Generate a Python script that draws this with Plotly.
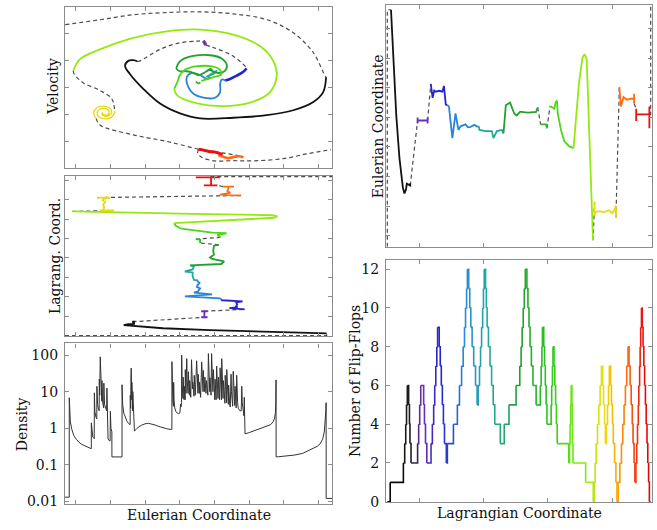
import plotly.graph_objects as go

# ---------------------------------------------------------------------------
# Colour ramp along the Lagrangian coordinate
# ---------------------------------------------------------------------------
ramp_L = [0.0, 0.09, 0.13, 0.20, 0.29, 0.38, 0.50, 0.62, 0.72, 0.82, 0.86, 0.91, 0.97, 1.0]
ramp_hex = ["#000000", "#202020", "#7030b0", "#2222d0", "#2a88d8", "#22aaa0", "#20a030",
            "#2ec81e", "#7aec10", "#e8e010", "#f8b400", "#ff6a10", "#e81010", "#e00000"]

# ---------------------------------------------------------------------------
# Trajectory stretches: Lagrangian coordinate (L) and Eulerian coordinate (E)
# ---------------------------------------------------------------------------
lead_in_L = [0.0, 0.0, 0.014]
lead_in_E = [0.0, 0.980, 0.980]

black_L = [0.014, 0.021, 0.034, 0.046, 0.059, 0.065, 0.071, 0.074, 0.079, 0.087, 0.087, 0.087]
black_E = [0.980, 0.816, 0.543, 0.367, 0.245, 0.220, 0.237, 0.261, 0.257, 0.253, 0.262, 0.253]

purple_L = [0.115, 0.115, 0.115, 0.115, 0.153, 0.153, 0.153, 0.153]
purple_E = [0.522, 0.534, 0.510, 0.522, 0.522, 0.534, 0.510, 0.522]

blue_L = [0.165, 0.172, 0.178, 0.184, 0.197, 0.209, 0.215, 0.222, 0.228]
blue_E = [0.673, 0.616, 0.646, 0.641, 0.645, 0.641, 0.665, 0.588, 0.585]

sky_L = [0.228, 0.234, 0.247, 0.259, 0.270, 0.278, 0.297, 0.306, 0.316, 0.331, 0.340, 0.347]
sky_E = [0.585, 0.580, 0.449, 0.551, 0.483, 0.498, 0.506, 0.494, 0.496, 0.504, 0.497, 0.498]

teal_L = [0.347, 0.350, 0.372, 0.397, 0.403, 0.416, 0.435, 0.441]
teal_E = [0.498, 0.483, 0.478, 0.478, 0.449, 0.478, 0.483, 0.469]

green_L = [0.441, 0.450, 0.466, 0.482, 0.491, 0.504, 0.509, 0.534, 0.565, 0.571]
green_E = [0.469, 0.585, 0.596, 0.551, 0.543, 0.558, 0.558, 0.555, 0.558, 0.576]

green2_L = [0.582, 0.603, 0.606]
green2_E = [0.506, 0.506, 0.490]

green3_L = [0.618, 0.634, 0.639, 0.644, 0.647, 0.660, 0.672, 0.691, 0.707]
green3_E = [0.582, 0.571, 0.596, 0.605, 0.551, 0.480, 0.436, 0.415, 0.408]

lime_L = [0.707, 0.715, 0.728, 0.741, 0.749, 0.757, 0.766, 0.774, 0.781]
lime_E = [0.408, 0.503, 0.680, 0.782, 0.796, 0.776, 0.478, 0.204, 0.027]

yellow_L = [0.787, 0.787, 0.789, 0.805, 0.823, 0.842, 0.853, 0.862, 0.866, 0.868, 0.868]
yellow_E = [0.184, 0.130, 0.143, 0.147, 0.143, 0.151, 0.139, 0.150, 0.163, 0.170, 0.120]

orange_L = [0.881, 0.887, 0.897, 0.910, 0.925, 0.937, 0.937, 0.937]
orange_E = [0.660, 0.580, 0.619, 0.608, 0.612, 0.612, 0.633, 0.592]

red_L = [0.945, 0.945, 0.945, 0.974, 0.995, 0.995, 0.995, 0.995]
red_E = [0.571, 0.520, 0.547, 0.547, 0.547, 0.580, 0.490, 0.547]

lead_out_L = [0.995, 1.0, 1.0]
lead_out_E = [0.547, 0.547, 1.0]

# ---------------------------------------------------------------------------
# Phase space: Eulerian coordinate (E) and velocity (V)
# ---------------------------------------------------------------------------
vel_lead_in_E = [0.001, 0.131, 0.255, 0.382, 0.506, 0.629, 0.757, 0.854, 0.929, 0.974, 0.978]
vel_lead_in_V = [0.779, 0.840, 0.902, 0.930, 0.939, 0.914, 0.840, 0.681, 0.436, 0.141, 0.125]

vel_black_E = [0.978, 0.967, 0.930, 0.855, 0.755, 0.630, 0.506, 0.431, 0.356, 0.293, 0.243, 0.225, 0.237, 0.256, 0.272]
vel_black_V = [0.125, -0.059, -0.182, -0.285, -0.346, -0.378, -0.387, -0.325, -0.202, -0.018, 0.166, 0.267, 0.329, 0.337, 0.321]

vel_gap1_E = [0.272, 0.281, 0.356, 0.431, 0.493, 0.518]
vel_gap1_V = [0.321, 0.329, 0.472, 0.555, 0.574, 0.580]

vel_purple_E = [0.518, 0.523, 0.527]
vel_purple_V = [0.580, 0.555, 0.525]

vel_gap2_E = [0.527, 0.554, 0.629, 0.675, 0.680]
vel_gap2_V = [0.525, 0.497, 0.390, 0.260, 0.236]

vel_blue_E = [0.680, 0.668, 0.643, 0.618, 0.600]
vel_blue_V = [0.236, 0.194, 0.145, 0.104, 0.085]

vel_sky_E = [0.600, 0.587, 0.581, 0.581, 0.562, 0.518, 0.481, 0.462, 0.456, 0.474, 0.506, 0.531, 0.545]
vel_sky_V = [0.085, 0.096, 0.043, -0.059, -0.129, -0.129, -0.080, 0.002, 0.125, 0.178, 0.153, 0.104, 0.120]

vel_teal_E = [0.545, 0.531, 0.555, 0.568, 0.540, 0.560]
vel_teal_V = [0.120, 0.137, 0.166, 0.206, 0.150, 0.190]

vel_green_E = [0.560, 0.540, 0.520, 0.500, 0.480, 0.455, 0.430, 0.418, 0.425, 0.437, 0.481, 0.543,
               0.587, 0.606, 0.599, 0.574, 0.555, 0.545, 0.530]
vel_green_V = [0.190, 0.215, 0.180, 0.150, 0.180, 0.200, 0.200, 0.227, 0.300, 0.341, 0.390, 0.399,
               0.358, 0.276, 0.206, 0.178, 0.200, 0.230, 0.200]

vel_green2_E = [0.490, 0.500, 0.507]
vel_green2_V = [0.070, 0.050, 0.060]

vel_green3_E = [0.510, 0.560, 0.585, 0.580, 0.550, 0.490, 0.450, 0.430, 0.420, 0.409]
vel_green3_V = [0.080, 0.130, 0.160, 0.220, 0.260, 0.260, 0.220, 0.150, 0.060, -0.018]

vel_lime_E = [0.409, 0.418, 0.456, 0.568, 0.693, 0.768, 0.793, 0.780, 0.730, 0.630, 0.506,
              0.381, 0.256, 0.131, 0.056, 0.031]
vel_lime_V = [-0.018, -0.092, -0.162, -0.231, -0.190, -0.059, 0.145, 0.329, 0.513, 0.656, 0.718,
              0.697, 0.616, 0.472, 0.350, 0.206]

vel_gap3_E = [0.031, 0.034, 0.069, 0.131, 0.175, 0.186]
vel_gap3_V = [0.206, 0.166, 0.055, -0.039, -0.141, -0.290]

# spiral: winds in, then back out along a second arm
vel_yellow_E = [0.186, 0.186, 0.173, 0.148, 0.1265, 0.120, 0.130, 0.148, 0.162, 0.166, 0.1588,
                0.148, 0.1408, 0.1404, 0.1386, 0.148, 0.1636, 0.1746, 0.1695, 0.148, 0.1211,
                0.107, 0.117]
vel_yellow_V = [-0.290, -0.315, -0.374, -0.393, -0.366, -0.315, -0.273, -0.261, -0.281, -0.315,
                -0.3405, -0.345, -0.332, -0.315, -0.337, -0.357, -0.352, -0.315, -0.264, -0.234,
                -0.251, -0.315, -0.388]

vel_gap4_E = [0.117, 0.131, 0.256, 0.381, 0.506, 0.590, 0.668]
vel_gap4_V = [-0.388, -0.469, -0.591, -0.672, -0.772, -0.815, -0.860]

vel_orange_E = [0.668, 0.650, 0.630, 0.612, 0.595, 0.575]
vel_orange_V = [-0.868, -0.856, -0.868, -0.880, -0.866, -0.848]

vel_gap5_E = [0.575, 0.590]
vel_gap5_V = [-0.848, -0.835]

vel_red_E = [0.590, 0.575, 0.560, 0.545, 0.530, 0.515, 0.500]
vel_red_V = [-0.835, -0.818, -0.805, -0.800, -0.790, -0.778, -0.770]

vel_lead_out_E = [0.500, 0.497, 0.512, 0.560, 0.630, 0.700, 0.818, 0.905, 0.996]
vel_lead_out_V = [-0.770, -0.820, -0.870, -0.915, -0.912, -0.915, -0.886, -0.828, -0.775]

# ---------------------------------------------------------------------------
# Density against the Eulerian coordinate
# ---------------------------------------------------------------------------
dens_E = [0.000, 0.016, 0.016, 0.020, 0.026, 0.033, 0.042, 0.051, 0.063, 0.076, 0.088, 0.0985,
          0.0986, 0.101, 0.104, 0.1095, 0.110, 0.112, 0.116, 0.119, 0.1195, 0.122, 0.126, 0.128,
          0.1285, 0.130, 0.132, 0.134, 0.136, 0.138, 0.1385, 0.141, 0.145, 0.1455, 0.148, 0.153,
          0.156, 0.157, 0.159, 0.161, 0.1612, 0.165, 0.169, 0.170, 0.172, 0.1755, 0.1757, 0.2135,
          0.2137, 0.216, 0.220, 0.226, 0.232, 0.238, 0.2440, 0.2445, 0.246, 0.247, 0.2475, 0.248,
          0.249, 0.250, 0.2505, 0.252, 0.253, 0.254, 0.2555, 0.257, 0.2575, 0.260, 0.266, 0.275,
          0.288, 0.300, 0.313, 0.325, 0.338, 0.351, 0.365, 0.380, 0.398, 0.4003, 0.4005,
          0.4020, 0.4040, 0.4060, 0.4070, 0.4085, 0.4110, 0.4150, 0.4200, 0.4250, 0.4300, 0.4330,
          0.4345, 0.4365, 0.4370, 0.4385, 0.4405, 0.4420, 0.4425, 0.4440, 0.4460, 0.4470, 0.4490,
          0.4500, 0.4505, 0.4520, 0.4535, 0.4545, 0.4560, 0.4575, 0.4595, 0.4610, 0.4620, 0.4640,
          0.4660, 0.4670, 0.4690, 0.4710, 0.4740, 0.4755, 0.4775, 0.4790, 0.4810, 0.4830, 0.4840,
          0.4860, 0.4880, 0.4930, 0.4945, 0.4965, 0.4980, 0.4990, 0.5010, 0.5030, 0.5040, 0.5060,
          0.5080, 0.5120, 0.5135, 0.5155, 0.5170, 0.5180, 0.5200, 0.5220, 0.5240, 0.5260, 0.5280,
          0.5300, 0.5320, 0.5350, 0.5370, 0.5385, 0.5405, 0.5420, 0.5430, 0.5450, 0.5470, 0.5490,
          0.5505, 0.5525, 0.5540, 0.5555, 0.5575, 0.5595, 0.5610, 0.5620, 0.5640, 0.5660, 0.5680,
          0.5695, 0.5715, 0.5730, 0.5750, 0.5770, 0.5790, 0.5810, 0.5825, 0.5845, 0.5860, 0.5870,
          0.5885, 0.5905, 0.5920, 0.5935, 0.5955, 0.5975, 0.5990, 0.6000, 0.6015, 0.6035, 0.6050,
          0.6060, 0.6075, 0.6095, 0.6115, 0.6130, 0.6150, 0.6170, 0.6190, 0.6220, 0.6235, 0.6255,
          0.6280, 0.6300, 0.6315, 0.6335, 0.6355, 0.6370, 0.6390, 0.6410, 0.6430, 0.6445, 0.6465,
          0.6490, 0.6520, 0.6550, 0.6600, 0.6620, 0.6640, 0.6670, 0.6700, 0.6715, 0.6730, 0.6740,
          0.6742, 0.690, 0.712, 0.735, 0.755, 0.770, 0.780, 0.785, 0.788, 0.7895, 0.7905, 0.7907,
          0.800, 0.830, 0.861, 0.890, 0.910, 0.924, 0.945, 0.955, 0.965, 0.971, 0.975, 0.977,
          0.978, 0.9782, 1.000]
dens_rho = [0.013, 0.013, 6.8, 1.5, 0.9, 0.63, 0.50, 0.42, 0.36, 0.32, 0.29, 0.275,
            1.4, 0.72, 0.58, 0.52, 9.3, 2.8, 2.0, 1.8, 14, 4.5, 3.2, 3.0,
            22, 8, 90, 20, 9, 5.5, 20, 5, 3.6, 17, 4.5, 3.2,
            3.0, 12.5, 3.2, 2.8, 0.51, 0.46, 0.45, 2.9, 1.0, 0.8, 0.164, 0.164,
            15.5, 4.5, 2.6, 1.9, 1.55, 1.35, 1.25, 8, 3.5, 25, 6, 44,
            12, 6, 18, 5, 3, 10, 3.2, 2.5, 0.86, 0.84, 0.92, 1.08,
            1.22, 1.32, 1.36, 1.32, 1.22, 1.12, 1.03, 0.97, 0.92, 0.92, 66,
            12, 5.5, 4.0, 18, 6, 3.6, 2.9, 2.6, 2.5, 2.6, 4.6,
            3.8, 5.0, 100, 20, 9, 6.5, 25, 9, 6, 14, 7,
            6, 40, 14, 9, 30, 80, 22, 12, 9, 35, 13,
            8, 20, 9, 7, 75, 25, 12, 18, 9, 7.5, 28,
            11, 8, 70, 24, 12, 9, 30, 12, 9, 18, 9,
            7, 65, 22, 13, 10, 38, 14, 10, 25, 12, 9,
            20, 10, 8, 110, 30, 15, 10, 24, 11, 8, 110,
            28, 14, 10, 40, 14, 8, 6, 22, 9, 6, 50,
            18, 9, 6.5, 25, 9, 6, 45, 16, 9, 6, 80,
            22, 10, 6.5, 20, 8, 5.5, 4.8, 28, 10, 6, 5,
            40, 12, 6, 4.5, 15, 6, 4.2, 3.8, 30, 10, 5.5,
            4.0, 36, 12, 6, 4.2, 14, 5, 3.6, 28, 10, 5,
            3.5, 3.2, 3.0, 3.0, 14, 5, 2.8, 2.2, 7, 2.2, 1.7,
            0.70, 0.76, 0.86, 0.98, 1.10, 1.25, 1.5, 1.9, 2.7, 4.5, 21, 0.164,
            0.166, 0.175, 0.185, 0.205, 0.24, 0.27, 0.32, 0.37, 0.50, 0.78, 1.5, 3.0,
            5.0, 0.012, 0.012]

# ---------------------------------------------------------------------------
# Number of flip-flops: count holds from flip_L[i] up to flip_L[i+1]
# ---------------------------------------------------------------------------
flip_L = [0.000, 0.011, 0.061, 0.066, 0.070, 0.073, 0.076, 0.081, 0.084, 0.086, 0.090,
          0.115, 0.119, 0.123, 0.127, 0.138, 0.141, 0.145, 0.150,
          0.166, 0.171, 0.176, 0.180, 0.184, 0.188, 0.191, 0.197, 0.201, 0.205, 0.209, 0.213,
          0.217, 0.224, 0.228, 0.251, 0.266, 0.274, 0.282, 0.288, 0.293, 0.297, 0.301, 0.304,
          0.309, 0.313, 0.317, 0.322, 0.328, 0.335, 0.341, 0.345, 0.350, 0.354, 0.358, 0.362,
          0.365, 0.368, 0.373, 0.376, 0.379, 0.384, 0.390, 0.396, 0.402, 0.408, 0.429, 0.444,
          0.462, 0.489, 0.503, 0.508, 0.512, 0.516, 0.520, 0.524, 0.530, 0.534, 0.538, 0.542,
          0.547, 0.553, 0.565, 0.581, 0.584, 0.587, 0.589, 0.594, 0.597, 0.600, 0.603, 0.606,
          0.622, 0.624, 0.627, 0.629, 0.633, 0.636, 0.639, 0.642, 0.645, 0.689, 0.692, 0.694,
          0.696, 0.698, 0.701, 0.702, 0.703, 0.705, 0.753, 0.782, 0.786, 0.789, 0.793, 0.798,
          0.803, 0.808, 0.813, 0.818, 0.821, 0.825, 0.828, 0.832, 0.836, 0.840, 0.843, 0.848,
          0.851, 0.855, 0.858, 0.863, 0.868, 0.872, 0.877, 0.883, 0.889, 0.894, 0.899, 0.904,
          0.909, 0.914, 0.918, 0.922, 0.926, 0.930, 0.933, 0.937, 0.940, 0.944, 0.947, 0.950,
          0.953, 0.955, 0.958, 0.960, 0.962, 0.965, 0.968, 0.971, 0.974, 0.977, 0.980, 0.983,
          0.986, 0.989, 0.992, 0.995, 1.000]
flip_n = [0, 1, 2, 3, 4, 5, 6, 5, 4, 3, 2,
          3, 4, 5, 6, 5, 4, 3, 2,
          3, 4, 5, 6, 7, 8, 9, 8, 7, 6, 5, 4,
          3, 2, 3, 4, 5, 6, 7, 8, 9, 10, 11, 12,
          11, 10, 9, 8, 7, 6, 5, 6, 7, 8, 9, 10,
          11, 12, 11, 10, 9, 8, 7, 6, 5, 4, 3, 4,
          5, 6, 7, 8, 9, 10, 11, 12, 11, 10, 9, 8,
          7, 6, 5, 6, 7, 8, 9, 8, 7, 6, 5, 4,
          5, 6, 7, 8, 7, 6, 5, 4, 3, 2, 3, 4,
          5, 6, 5, 4, 3, 2, 1, 0, 1, 2, 3, 4,
          5, 6, 7, 6, 5, 4, 3, 4, 5, 6, 7, 6,
          5, 4, 3, 2, 1, 0, 1, 2, 3, 4, 5, 6,
          7, 8, 7, 6, 5, 4, 3, 2, 1, 2, 3, 4,
          5, 6, 7, 8, 9, 10, 9, 8, 7, 6, 5, 4,
          3, 2, 1, 0, 0]

# ticks
left_x_ticks = [0.039, 0.170, 0.300, 0.430, 0.560, 0.690, 0.820, 0.950]
vel_ticks = [-0.674, -0.337, 0.0, 0.337, 0.674]
lag_ticks = [0.122, 0.244, 0.366, 0.488, 0.610, 0.732, 0.854, 0.976]
right_x_ticks = [0.122, 0.366, 0.610, 0.854]
eul_ticks = [0.045, 0.168, 0.290, 0.413, 0.535, 0.658, 0.780, 0.903]
dens_ticks = [0.01, 0.1, 1, 10, 100]
dens_labels = ["0.01", "0.1", "1", "10", "100"]
flip_ticks = [0, 2, 4, 6, 8, 10, 12]


def ramp_colour(t):
    for i in range(len(ramp_L) - 1):
        if ramp_L[i] <= t <= ramp_L[i + 1]:
            f = (t - ramp_L[i]) / (ramp_L[i + 1] - ramp_L[i])
            a = [int(ramp_hex[i][k:k + 2], 16) for k in (1, 3, 5)]
            b = [int(ramp_hex[i + 1][k:k + 2], 16) for k in (1, 3, 5)]
            c = [round(a[k] + f * (b[k] - a[k])) for k in range(3)]
            return "rgb(%d,%d,%d)" % tuple(c)
    return ramp_hex[-1]


segments = [
    ("black", black_L, black_E, vel_black_E, vel_black_V),
    ("purple", purple_L, purple_E, vel_purple_E, vel_purple_V),
    ("blue", blue_L, blue_E, vel_blue_E, vel_blue_V),
    ("sky", sky_L, sky_E, vel_sky_E, vel_sky_V),
    ("teal", teal_L, teal_E, vel_teal_E, vel_teal_V),
    ("green", green_L, green_E, vel_green_E, vel_green_V),
    ("green2", green2_L, green2_E, vel_green2_E, vel_green2_V),
    ("green3", green3_L, green3_E, vel_green3_E, vel_green3_V),
    ("lime", lime_L, lime_E, vel_lime_E, vel_lime_V),
    ("yellow", yellow_L, yellow_E, vel_yellow_E, vel_yellow_V),
    ("orange", orange_L, orange_E, vel_orange_E, vel_orange_V),
    ("red", red_L, red_E, vel_red_E, vel_red_V),
]
vel_width = {"purple": 3.2, "blue": 2.6, "red": 3.0, "orange": 2.6, "yellow": 1.3}

vel_gaps = [(vel_lead_in_E, vel_lead_in_V), (vel_gap1_E, vel_gap1_V), (vel_gap2_E, vel_gap2_V),
            (vel_gap3_E, vel_gap3_V), (vel_gap4_E, vel_gap4_V), (vel_gap5_E, vel_gap5_V),
            (vel_lead_out_E, vel_lead_out_V)]

DASH = dict(color="#4d4d4d", width=1.2, dash="4px,3px")
FONT = "DejaVu Serif"
TEXT = "#111111"

fig = go.Figure()


def add(x, y, xa, ya, line, shape="linear"):
    fig.add_trace(go.Scatter(x=x, y=y, mode="lines", xaxis=xa, yaxis=ya, showlegend=False,
                             hoverinfo="skip", line=dict(shape=shape, **line)))


# dashed joins between consecutive stretches (E-L space)
joins = [(lead_in_L, lead_in_E), (lead_out_L, lead_out_E)]
for a, b in zip(segments[:-1], segments[1:]):
    if (a[1][-1], a[2][-1]) != (b[1][0], b[2][0]):
        joins.append(([a[1][-1], b[1][0]], [a[2][-1], b[2][0]]))
for jl, je in joins:
    add(jl, je, "x4", "y4", DASH)
    add(je, jl, "x2", "y2", DASH)

# dashed joins in phase space
for ge, gv in vel_gaps:
    add(ge, gv, "x", "y", DASH, "spline")

# coloured stretches
for name, sl, se, ve, vv in segments:
    col = ramp_colour(0.5 * (sl[0] + sl[-1]))
    add(sl, se, "x4", "y4", dict(color=col, width=1.8))
    add(se, sl, "x2", "y2", dict(color=col, width=1.8))
    add(ve, vv, "x", "y", dict(color=col, width=vel_width.get(name, 1.8)), "spline")

# density
add(dens_E, dens_rho, "x3", "y3", dict(color="#333333", width=1.0))

# flip-flop staircase, each step coloured by its Lagrangian position
for i in range(len(flip_L) - 1):
    col = ramp_colour(0.5 * (flip_L[i] + flip_L[i + 1]))
    add([flip_L[i], flip_L[i + 1], flip_L[i + 1]], [flip_n[i], flip_n[i], flip_n[i + 1]],
        "x5", "y5", dict(color=col, width=1.6))

W, H = 657, 530
xl = [65 / W, 332 / W]
xr = [386 / W, 652 / W]


def ax(domain, rng, ticks, anchor, labels=False, **kw):
    d = dict(domain=domain, range=rng, anchor=anchor, showgrid=False, zeroline=False,
             showline=True, mirror="ticks", linecolor="#8c8c8c", linewidth=1.3,
             ticks="inside", ticklen=4, tickwidth=1, tickcolor="#8c8c8c",
             tickvals=ticks, showticklabels=labels,
             tickfont=dict(family=FONT, size=14, color=TEXT))
    d.update(kw)
    return d


fig.update_layout(
    width=W, height=H, margin=dict(l=0, r=0, t=0, b=0),
    paper_bgcolor="white", plot_bgcolor="white",
    xaxis=ax(xl, [0, 1], left_x_ticks, "y"),
    yaxis=ax([1 - 170 / H, 1 - 7 / H], [-1, 1], vel_ticks, "x"),
    xaxis2=ax(xl, [0, 1], left_x_ticks, "y2"),
    yaxis2=ax([1 - 341 / H, 1 - 178 / H], [-0.006, 1.006], lag_ticks, "x2"),
    xaxis3=ax(xl, [0, 1], left_x_ticks, "y3"),
    yaxis3=ax([1 - 511 / H, 1 - 348 / H], [-2.08, 2.32], dens_ticks, "x3", True,
              type="log", ticktext=dens_labels, ticklabelstandoff=3),
    xaxis4=ax(xr, [-0.005, 1.005], right_x_ticks, "y4"),
    yaxis4=ax([1 - 250 / H, 1 - 5 / H], [0, 1], eul_ticks, "x4"),
    xaxis5=ax(xr, [-0.005, 1.005], right_x_ticks, "y5"),
    yaxis5=ax([1 - 509 / H, 1 - 263 / H], [-0.03, 12.5], flip_ticks, "x5", True,
              ticklabelstandoff=3),
)

titles = [
    ("Velocity", 53, 88, -90),
    ("Lagrang. Coord.", 55, 259.5, -90),
    ("Density", 22, 430, -90),
    ("Eulerian Coordinate", 198.5, 521.5, 0),
    ("Eulerian Coordinate", 378, 128, -90),
    ("Number of Flip-Flops", 355, 386, -90),
    ("Lagrangian Coordinate", 519, 520, 0),
]
for text, px, py, ang in titles:
    fig.add_annotation(text=text, x=px / W, y=1 - py / H, xref="paper", yref="paper",
                       showarrow=False, textangle=ang, xanchor="center", yanchor="middle",
                       font=dict(family=FONT, size=14, color=TEXT))

fig.write_html("out.html")
